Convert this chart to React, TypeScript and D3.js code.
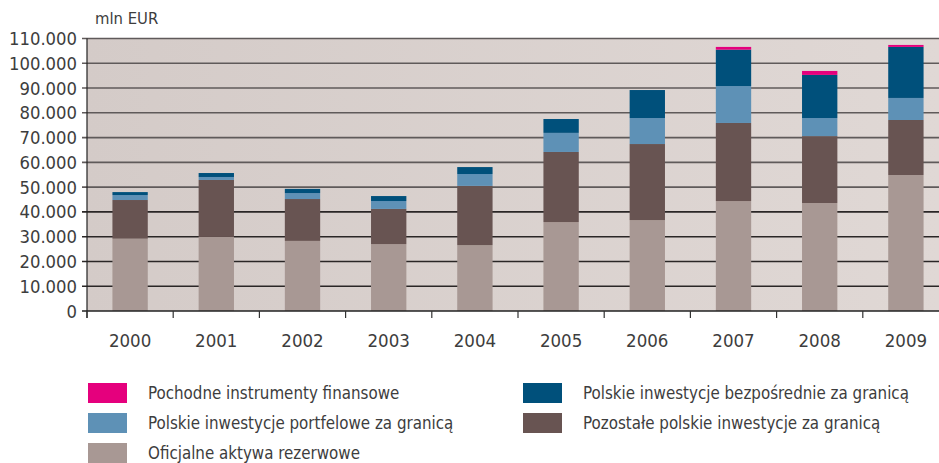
import React, { useEffect, useRef } from "react";
import * as d3 from "d3";

const years = ["2000", "2001", "2002", "2003", "2004", "2005", "2006", "2007", "2008", "2009"];

// mln EUR
const reserves = [29.2, 29.9, 28.3, 27.0, 26.6, 35.9, 36.7, 44.4, 43.6, 54.9].map((v) => v * 1000);
const otherInv = [15.6, 23.0, 16.9, 14.2, 23.9, 28.3, 30.7, 31.5, 27.0, 22.2].map((v) => v * 1000);
const portfolio = [2.0, 1.2, 2.4, 3.2, 4.8, 7.7, 10.5, 14.9, 7.3, 8.9].map((v) => v * 1000);
const direct = [1.2, 1.6, 1.7, 2.0, 2.8, 5.6, 11.3, 14.7, 17.4, 20.6].map((v) => v * 1000);
const derivatives = [0, 0, 0, 0, 0, 0, 0, 1.1, 1.6, 0.8].map((v) => v * 1000);

const yTicks = [0, 10000, 20000, 30000, 40000, 50000, 60000, 70000, 80000, 90000, 100000, 110000];

const seriesKeys = ["reserves", "otherInv", "portfolio", "direct", "derivatives"];
const seriesColors: Record<string, string> = {
  reserves: "#a89894",
  otherInv: "#685452",
  portfolio: "#5e91b6",
  direct: "#00507b",
  derivatives: "#e5007d",
};

const legendItems = [
  { key: "derivatives", label: "Pochodne instrumenty finansowe", col: 0, row: 0 },
  { key: "direct", label: "Polskie inwestycje bezpośrednie za granicą", col: 1, row: 0 },
  { key: "portfolio", label: "Polskie inwestycje portfelowe za granicą", col: 0, row: 1 },
  { key: "otherInv", label: "Pozostałe polskie inwestycje za granicą", col: 1, row: 1 },
  { key: "reserves", label: "Oficjalne aktywa rezerwowe", col: 0, row: 2 },
];

const W = 939;
const H = 463;
const FONT = "'DejaVu Sans Condensed', 'Liberation Sans Narrow', sans-serif";
const TEXT = "#3d3d3d";

const App = () => {
  const svgRef = useRef<SVGSVGElement>(null);

  useEffect(() => {
    const svg = d3.select(svgRef.current);
    svg.selectAll("*").remove();

    const margin = { top: 38.5, left: 87, bottom: 311 };
    const bandW = 86.2;

    const table = years.map((y, i) => ({
      year: y,
      reserves: reserves[i],
      otherInv: otherInv[i],
      portfolio: portfolio[i],
      direct: direct[i],
      derivatives: derivatives[i],
    }));

    const x = d3
      .scaleBand()
      .domain(years)
      .range([margin.left, margin.left + bandW * years.length])
      .paddingInner(0.59)
      .paddingOuter(0.295);

    const y = d3.scaleLinear().domain([0, 110000]).range([margin.bottom, margin.top]);

    // plot background
    const bg = svg.append("defs").append("linearGradient").attr("id", "bg");
    bg.append("stop").attr("offset", "0%").attr("stop-color", "#d4cbc8");
    bg.append("stop").attr("offset", "100%").attr("stop-color", "#e0d8d5");
    svg
      .append("rect")
      .attr("x", margin.left)
      .attr("y", margin.top)
      .attr("width", W - margin.left)
      .attr("height", margin.bottom - margin.top)
      .attr("fill", "url(#bg)");

    // gridlines
    svg
      .append("g")
      .selectAll("line")
      .data(yTicks.slice(1))
      .join("line")
      .attr("x1", margin.left - 5)
      .attr("x2", W)
      .attr("y1", (d) => y(d))
      .attr("y2", (d) => y(d))
      .attr("stroke", (d) => (d <= 40000 ? "#2a2626" : "#5f5a5a"))
      .attr("stroke-width", 1.6);

    // stacked bars
    const stacked = d3.stack<any>().keys(seriesKeys)(table);
    svg
      .append("g")
      .selectAll("g")
      .data(stacked)
      .join("g")
      .attr("fill", (s) => seriesColors[s.key])
      .selectAll("rect")
      .data((s) => s.filter((d) => d[1] - d[0] > 0))
      .join("rect")
      .attr("x", (d) => x(d.data.year)!)
      .attr("width", x.bandwidth())
      .attr("y", (d) => y(d[1]))
      .attr("height", (d) => y(d[0]) - y(d[1]));

    // axes lines
    svg
      .append("line")
      .attr("x1", margin.left)
      .attr("x2", margin.left)
      .attr("y1", margin.top)
      .attr("y2", margin.bottom + 7)
      .attr("stroke", "#222")
      .attr("stroke-width", 1.2);
    svg
      .append("line")
      .attr("x1", margin.left - 5)
      .attr("x2", W)
      .attr("y1", margin.bottom)
      .attr("y2", margin.bottom)
      .attr("stroke", "#222")
      .attr("stroke-width", 1.6);

    // bottom ticks at band edges
    svg
      .append("g")
      .selectAll("line")
      .data(years)
      .join("line")
      .attr("x1", (d, i) => margin.left + bandW * i)
      .attr("x2", (d, i) => margin.left + bandW * i)
      .attr("y1", margin.bottom)
      .attr("y2", margin.bottom + 7)
      .attr("stroke", "#333")
      .attr("stroke-width", 1.2);

    // y labels
    const fmt = (v: number) => (v === 0 ? "0" : d3.format(",")(v).replace(/,/g, "."));
    svg
      .append("g")
      .selectAll("text")
      .data(yTicks)
      .join("text")
      .attr("x", 77)
      .attr("y", (d) => y(d) + 6.5)
      .attr("text-anchor", "end")
      .attr("font-family", FONT)
      .attr("font-size", 18.3)
      .attr("fill", TEXT)
      .text(fmt);

    svg
      .append("text")
      .attr("x", 95)
      .attr("y", 24)
      .attr("font-family", FONT)
      .attr("font-size", 16.5)
      .attr("fill", TEXT)
      .text("mln EUR");

    // x labels
    svg
      .append("g")
      .selectAll("text")
      .data(years)
      .join("text")
      .attr("x", (d) => x(d)! + x.bandwidth() / 2)
      .attr("y", 347)
      .attr("text-anchor", "middle")
      .attr("font-family", FONT)
      .attr("font-size", 18.5)
      .attr("fill", TEXT)
      .text((d) => d);

    // legend
    const lg = svg
      .append("g")
      .selectAll("g")
      .data(legendItems)
      .join("g")
      .attr("transform", (d) => `translate(${d.col === 0 ? 88 : 523}, ${383 + d.row * 30})`);
    lg.append("rect")
      .attr("width", 39)
      .attr("height", 20)
      .attr("fill", (d) => seriesColors[d.key]);
    lg.append("text")
      .attr("x", 60)
      .attr("y", 15.5)
      .attr("font-family", FONT)
      .attr("font-size", 16.8)
      .attr("fill", TEXT)
      .text((d) => d.label);
  }, []);

  return (
    <svg
      ref={svgRef}
      width={W}
      height={H}
      style={{ position: "absolute", left: 0, top: 0, background: "#fff" }}
    />
  );
};

export default App;
